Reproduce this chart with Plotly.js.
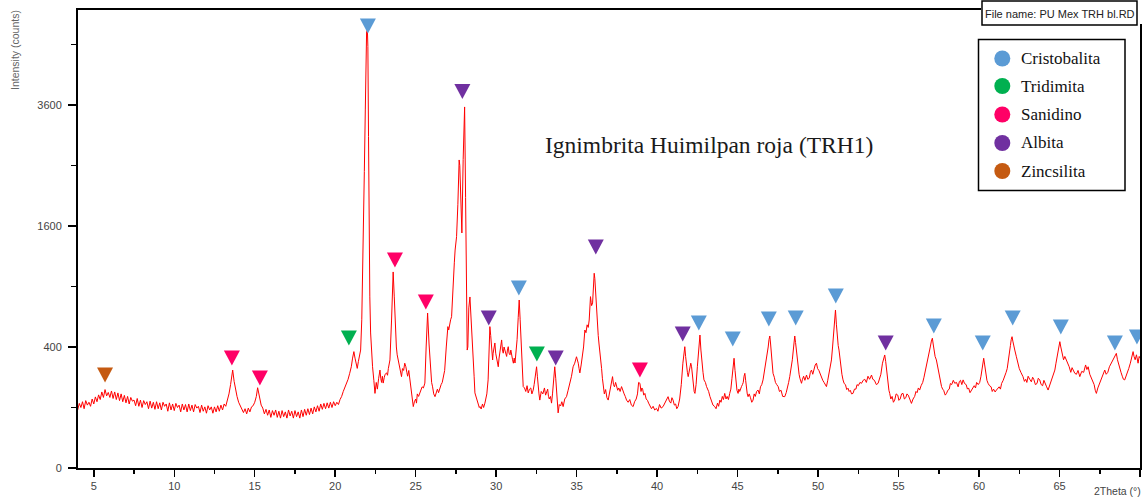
<!DOCTYPE html>
<html><head><meta charset="utf-8">
<script src="https://cdn.plot.ly/plotly-3.0.1.min.js"></script>
<style>html,body{margin:0;padding:0;background:#fff}#chart{width:1146px;height:499px}</style>
</head><body><div id="chart"></div>
<script>
// ---- Pattern: 2Theta (deg) and intensity (counts), in four segments ----
const thetaA = [
4.0,4.1,4.2,4.3,4.4,4.5,4.6,4.7,4.8,4.9,
5.0,5.1,5.2,5.3,5.4,5.5,5.6,5.7,5.8,5.9,
6.0,6.1,6.2,6.3,6.4,6.5,6.6,6.7,6.8,6.9,
7.0,7.1,7.2,7.3,7.4,7.5,7.6,7.7,7.8,7.9,
8.0,8.1,8.2,8.3,8.4,8.5,8.6,8.7,8.8,8.9,
9.0,9.1,9.2,9.3,9.4,9.5,9.6,9.7,9.8,9.9,
10.0,10.1,10.2,10.3,10.4,10.5,10.6,10.7,10.8,10.9,
11.0,11.1,11.2,11.3,11.4,11.5,11.6,11.7,11.8,11.9,
12.0,12.1,12.2,12.3,12.4,12.5,12.6,12.7,12.8,12.9,
13.0,13.1,13.2,13.3,
13.4,13.5,13.55,13.63,13.72,13.8,13.9,
14.0,14.1,14.2,14.3,14.4,14.5,14.6,14.7,14.8,14.9,
15.0,15.1,15.18,15.25,15.3,15.4,
15.5,15.6,15.7,15.8,15.9,
16.0,16.1,16.2,16.3,16.4,16.5,16.6,16.7,16.8,16.9,
17.0,17.1,17.2,17.3,17.4,17.5,17.6,17.7,17.8,17.9,
18.0,18.1,18.2,18.3,18.4,18.5,18.6,18.7,18.8,18.9,
19.0,19.1,19.2,19.3,19.4,19.5,19.6,19.7,19.8,19.9,
20.0,20.1,20.2,20.3,20.4];
const countsA = [
92,114,100,120,96,124,108,118,104,130,
112,138,120,146,128,158,136,168,142,156,
136,162,132,158,128,154,124,150,120,144,
116,140,112,136,122,126,106,132,104,126,
100,124,110,120,96,122,98,118,94,120,
96,116,92,118,104,112,88,116,92,112,
90,114,100,108,86,112,92,110,86,112,
90,108,86,110,98,104,84,108,88,102,
82,106,92,102,82,102,86,106,88,108,
92,112,104,122,
150,190,215,262,205,165,140,
118,106,98,84,96,80,98,86,102,106,
118,140,176,150,130,108,
98,80,94,76,92,
70,90,76,92,70,88,68,90,72,86,
68,92,74,88,68,90,72,86,68,92,
72,94,76,96,78,98,80,102,86,106,
88,112,94,114,96,116,98,118,100,120,
106,118,110,128,140];

const thetaB = [
20.5,20.6,20.7,20.8,20.9,21.0,21.08,21.16,21.23,21.3,21.37,21.44,21.5,21.58,21.65,21.74,21.81,21.87,21.95,22.0,
22.03,22.07,22.1,22.15,22.2,22.26,22.32,22.4,22.47,22.55,22.62,22.7,22.78,22.83,22.88,22.93,22.98,23.05,23.1,23.19,
23.25,23.3,23.4,23.5,23.6,23.67,23.73,23.8,23.85,23.91,24.0,24.06,24.12,24.18,24.25,24.32,24.39,24.45,24.5,24.57,
24.64,24.7,24.75,24.8,24.85,24.92,25.0,25.05,25.1,25.18,25.26,25.33,25.4,25.48,25.57,25.65,25.74,25.83,25.93,25.99,
26.05,26.12,26.2,26.28,26.35,26.42,26.5,26.58,26.65,26.72,26.8,26.9,26.95,27.0,27.05,27.1,27.17,27.23,27.28,27.33,
27.4,27.45,27.54,27.62,27.7,27.74,27.78,27.83,27.87,27.95,28.0,28.04,28.1,28.16,28.2,28.24,28.3,28.37,28.43,28.49,
28.55,28.58,28.63,28.68,28.75,28.8,28.88,28.95,28.99,29.07,29.15,29.22,29.3,29.36,29.42,29.5,29.55,29.61,29.66,29.7,
29.74,29.78,29.81,29.85,29.92,29.97,30.02,30.07,30.13,30.18,30.23,30.28,30.34,30.39,30.44,30.49,30.54,30.6,30.65,30.7,
30.75,30.8,30.86,30.91,30.96,31.02,31.07,31.12,31.17,31.24,31.3,31.37,31.43,31.49,31.55,31.62,31.68,31.76,31.84,31.92,
31.99,32.07,32.15,32.22,32.3,32.36,32.42,32.51,32.56,32.6,32.66,32.71,32.8,32.9,33.0,33.07,33.13,33.2,33.25,33.3,
33.37,33.44,33.5,33.55,33.6,33.64,33.7,33.75,33.8,33.85,33.92,34.0,34.08,34.16,34.26,34.37,34.47,34.58,34.68,34.78,
34.88,34.99,35.05,35.1,35.15,35.2,35.28,35.35,35.43,35.51,35.58,35.65,35.72,35.78,35.82,35.86,35.9,35.93,35.99,36.04,
36.09,36.13,36.16,36.2,36.24,36.29,36.34,36.39,36.44,36.5,36.55];
const countsB = [
160,175,195,215,245,280,330,370,330,300,271,310,340,380,600,1298,2400,3502,5201,5242,
4850,3000,1509,800,498,360,280,210,152,200,170,220,262,220,200,230,197,225,240,247,
235,270,319,598,1050,800,498,400,350,319,280,250,228,270,260,300,280,250,230,260,
212,180,160,120,103,120,130,115,150,140,154,170,180,175,197,400,656,420,228,200,
180,150,139,160,170,155,175,190,200,230,260,400,480,546,520,560,600,625,800,1000,
1150,1298,1462,1900,2592,2500,2000,1600,1509,2600,3300,3561,2000,402,380,400,700,799,650,546,
420,350,230,154,140,130,115,100,103,95,112,100,115,130,150,212,350,546,480,400,
340,319,360,380,427,360,330,300,280,330,360,400,448,380,360,400,380,360,340,380,
402,360,350,380,338,320,300,330,301,360,450,620,771,600,400,250,181,175,160,185,
154,170,175,150,166,190,220,280,230,180,150,126,160,150,175,145,154,170,140,130,
140,115,150,200,250,280,220,160,110,83,110,105,120,103,130,139,165,197,230,280,
300,338,320,300,270,247,290,330,400,520,500,560,540,598,700,802,750,720,744,900,
1036,980,900,760,625,540,480,420,380,320,270];

const thetaC = [
36.6,36.65,36.72,36.8,36.88,36.96,37.03,37.1,37.17,37.23,37.29,37.35,37.42,37.48,37.55,37.62,37.7,37.79,37.87,37.95,
38.02,38.1,38.2,38.3,38.4,38.51,38.6,38.7,38.78,38.85,38.93,39.0,39.05,39.1,39.17,39.24,39.32,39.4,39.47,39.55,
39.65,39.75,39.85,39.96,40.05,40.15,40.25,40.37,40.46,40.55,40.62,40.68,40.76,40.85,40.92,40.99,41.07,41.15,41.22,41.3,
41.4,41.5,41.6,41.72,41.77,41.82,41.88,41.93,41.98,42.03,42.09,42.14,42.2,42.25,42.3,42.35,42.42,42.5,42.58,42.66,
42.72,42.78,42.85,42.91,43.0,43.07,43.14,43.2,43.28,43.38,43.47,43.58,43.66,43.75,43.82,43.9,43.97,44.05,44.12,44.2,
44.28,44.35,44.43,44.51,44.58,44.65,44.72,44.78,44.84,44.9,44.96,45.03,45.08,45.13,45.18,45.24,45.3,45.35,45.4,45.45,
45.5,45.55,45.6,45.65,45.72,45.8,45.88,45.96,46.03,46.1,46.18,46.27,46.35,46.42,46.5,46.58,46.64,46.7,46.79,46.85,
46.9,46.95,47.0,47.05,47.1,47.15,47.2,47.28,47.35,47.43,47.52,47.6,47.7,47.8,47.93,48.02,48.1,48.17,48.24,48.32,
48.4,48.48,48.55,48.6,48.65,48.7,48.76,48.82,48.87,48.92,48.97,49.03,49.1,49.18,49.28,49.36,49.45,49.52,49.59,49.67,
49.75,49.82,49.9,49.97,50.05,50.13,50.21,50.29,50.37,50.45,50.52,50.6,50.7,50.77,50.83,50.9,50.95,51.02,51.08,51.14,
51.2,51.25,51.3,51.36,51.42,51.48,51.55,51.62,51.7,51.78,51.86,51.93,52.0,52.08,52.17,52.26,52.35,52.42,52.5,52.6,
52.7,52.8,52.9,53.0,53.1,53.2,53.32,53.4,53.5,53.62,53.73,53.82];
const countsC = [
220,181,150,168,135,126,150,170,200,228,190,180,200,181,165,175,160,181,160,150,
140,126,118,128,108,103,120,130,150,200,196,160,175,170,145,152,130,125,115,108,
96,104,92,97,88,110,98,103,114,120,130,139,122,115,135,126,108,112,96,103,
130,190,300,402,340,280,250,228,250,260,300,280,220,180,160,152,190,280,400,483,
380,300,250,212,200,181,170,160,140,126,108,103,96,115,104,126,118,140,128,152,
130,140,128,152,170,220,290,329,260,200,165,152,170,160,175,181,190,200,230,245,
210,170,150,139,150,135,118,126,150,140,160,166,150,180,190,212,240,270,319,360,
400,450,476,420,350,290,245,225,200,190,181,160,165,140,139,155,175,200,228,270,
320,400,476,430,380,320,280,240,220,205,196,215,230,210,236,215,220,250,262,240,
270,290,300,270,260,240,228,210,200,190,181,210,250,280,319,400,480,600,682,560,
450,410,380,320,270,240,212,195,190,168,174,160,165,150,152,170,170,190,185,200,
196,210,215,200,230,215,236,215,210,190,196,215];

const thetaD = [
53.9,54.0,54.07,54.14,54.2,54.25,54.3,54.35,54.4,54.45,54.52,54.6,54.68,54.76,54.85,54.95,55.02,55.1,55.19,55.28,
55.36,55.45,55.52,55.6,55.7,55.8,55.9,56.0,56.08,56.15,56.23,56.31,56.4,56.5,56.58,56.65,56.72,56.77,56.84,56.9,
56.97,57.04,57.1,57.15,57.2,57.27,57.35,57.43,57.5,57.58,57.67,57.74,57.8,57.9,57.98,58.06,58.15,58.22,58.3,58.4,
58.49,58.6,58.7,58.78,58.85,58.93,59.01,59.1,59.2,59.28,59.35,59.44,59.53,59.62,59.7,59.78,59.85,59.95,60.04,60.12,
60.18,60.24,60.29,60.35,60.42,60.49,60.56,60.65,60.75,60.82,60.9,61.0,61.08,61.17,61.25,61.33,61.4,61.5,61.6,61.68,
61.75,61.8,61.86,61.9,61.95,62.0,62.05,62.1,62.15,62.22,62.32,62.4,62.5,62.6,62.73,62.82,62.9,62.97,63.05,63.15,
63.25,63.33,63.4,63.5,63.6,63.68,63.77,63.86,63.95,64.03,64.1,64.2,64.29,64.4,64.5,64.6,64.71,64.78,64.85,64.93,
65.02,65.08,65.15,65.2,65.25,65.33,65.43,65.52,65.6,65.7,65.78,65.85,65.95,66.05,66.15,66.26,66.38,66.5,66.62,66.7,
66.78,66.88,67.0,67.08,67.15,67.22,67.29,67.38,67.5,67.57,67.65,67.73,67.81,67.9,68.0,68.1,68.22,68.3,68.4,68.47,
68.53,68.6,68.65,68.74,68.82,68.9,68.97,69.05,69.12,69.2,69.3,69.4,69.48,69.57,69.63,69.7,69.78,69.88,69.95,70.0];
const countsD = [
240,300,330,349,310,260,220,190,165,152,130,140,118,126,150,145,125,130,150,152,
130,135,150,145,125,114,130,140,160,155,175,166,185,200,225,250,280,300,330,360,
400,440,460,420,380,340,319,280,240,210,181,170,165,145,152,165,170,195,190,210,
196,200,180,205,210,190,212,195,190,170,175,155,166,180,185,175,200,190,200,230,
260,300,329,290,240,210,196,185,180,160,170,158,166,175,180,170,195,210,228,250,
270,310,359,380,410,450,471,440,420,380,338,300,270,250,228,205,215,200,230,215,
203,225,215,190,195,220,212,190,185,210,200,180,166,190,210,235,262,300,340,400,
436,400,360,330,320,340,319,300,280,250,275,262,245,240,260,228,255,250,290,265,
280,240,220,200,190,165,152,175,200,215,230,250,262,240,250,280,300,320,330,345,
359,320,300,280,250,230,215,212,225,240,270,300,330,370,340,320,350,300,340,330];

// ---- Phase markers: 2Theta and counts level of each marker ----
const phaseNames = ['Cristobalita','Tridimita','Sanidino','Albita','Zincsilita'];
const phaseColors = ['#5B9BD5','#00B050','#FF0066','#7030A0','#C55A11'];
const cristobalitaX = [22.03,31.41,42.59,44.70,46.94,48.61,51.10,57.19,60.23,62.09,65.08,68.44,69.81];
const cristobalitaY = [5338,885,574,455,607,615,808,551,427,615,543,427,469];
const tridimitaX = [20.85,32.53];
const tridimitaY = [462,355];
const sanidinoX = [13.58,15.32,23.71,25.63,38.93];
const sanidinoY = [331,221,1182,753,262];
const albitaX = [27.90,29.54,33.70,36.19,41.59,54.20];
const albitaY = [3870,615,331,1334,491,427];
const zincsilitaX = [5.70];
const zincsilitaY = [236];

const yTickCounts = [0,400,1600,3600];
const yMinorCounts = [100,900,2500,4900];
const xRange = [4.02,70];
const yMaxCounts = 5730;

const twoTheta = thetaA.concat(thetaB, thetaC, thetaD);
const counts = countsA.concat(countsB, countsC, countsD);

const sq = v => Math.sqrt(v);            // square-root intensity scale
const L = 78, R = 1140, T = 10, B = 468;
const px = x => (x - L) / (R - L);
const py = y => (B - y) / (B - T);

const traces = [{
  type:'scatter', mode:'lines', x: twoTheta, y: counts.map(sq),
  line:{color:'#FF0000', width:1}, showlegend:false
}];

const shapes = [];
const sets = [[cristobalitaX,cristobalitaY],[tridimitaX,tridimitaY],[sanidinoX,sanidinoY],[albitaX,albitaY],[zincsilitaX,zincsilitaY]];
sets.forEach((s, k) => {
  s[0].forEach((xv, i) => {
    shapes.push({type:'path', xref:'x', yref:'y', xsizemode:'pixel', ysizemode:'pixel',
      xanchor:xv, yanchor:sq(s[1][i]), path:'M-8,7.5L8,7.5L0,-7.5Z',
      fillcolor:phaseColors[k], line:{color:phaseColors[k], width:0}, layer:'above'});
  });
});

// legend box
shapes.push({type:'rect', xref:'paper', yref:'paper', x0:px(978.5), x1:px(1125), y0:py(190.5), y1:py(39.5),
  line:{color:'#000', width:1.5}, fillcolor:'rgba(255,255,255,0)'});
const rowY = [58.5, 86, 114.5, 143, 171];
const annotations = [];
phaseNames.forEach((n, k) => {
  shapes.push({type:'circle', xref:'paper', yref:'paper', xsizemode:'pixel', ysizemode:'pixel',
    xanchor:px(1002.3), yanchor:py(rowY[k]), x0:-8, x1:8, y0:-8, y1:8,
    fillcolor:phaseColors[k], line:{color:phaseColors[k], width:0}});
  annotations.push({xref:'paper', yref:'paper', x:px(1018.5), y:py(rowY[k]), xanchor:'left', yanchor:'middle',
    text:n, showarrow:false, font:{family:'Liberation Serif, Times New Roman, serif', size:17, color:'#111'}});
});
// file name box over the top-right corner of the frame
shapes.push({type:'rect', xref:'paper', yref:'paper', x0:px(981), x1:px(1146), y0:py(24), y1:py(-2),
  line:{width:0}, fillcolor:'#fff'});
shapes.push({type:'rect', xref:'paper', yref:'paper', x0:px(982), x1:px(1137), y0:py(25), y1:py(1),
  line:{color:'#000', width:1.5}, fillcolor:'#fff'});

annotations.push({xref:'paper', yref:'paper', x:px(1059.5), y:py(14.5), xanchor:'center', yanchor:'middle',
  text:'File name: PU Mex TRH bl.RD', showarrow:false, font:{family:'Liberation Sans, Arial, sans-serif', size:11, color:'#222'}});
annotations.push({xref:'paper', yref:'paper', x:px(709), y:py(145), xanchor:'center', yanchor:'middle',
  text:'Ignimbrita Huimilpan roja (TRH1)', showarrow:false, font:{family:'Liberation Serif, Times New Roman, serif', size:23.5, color:'#1a1a1a'}});
annotations.push({xref:'paper', yref:'paper', x:px(15), y:py(50), xanchor:'center', yanchor:'middle', textangle:-90,
  text:'Intensity (counts)', showarrow:false, font:{family:'Liberation Sans, Arial, sans-serif', size:10.5, color:'#666'}});
annotations.push({xref:'paper', yref:'paper', x:px(1092), y:py(491), xanchor:'left', yanchor:'middle',
  text:'2Theta (°)', showarrow:false, font:{family:'Liberation Sans, Arial, sans-serif', size:10.5, color:'#444'}});

const tickFont = {family:'Liberation Sans, Arial, sans-serif', size:11, color:'#444'};
const layout = {
  width:1146, height:499, margin:{l:78, r:6, t:10, b:31, pad:0},
  paper_bgcolor:'#fff', plot_bgcolor:'#fff', showlegend:false,
  xaxis:{range:xRange, tickmode:'linear', tick0:0, dtick:5, ticks:'outside', ticklen:7, tickwidth:1.5, tickcolor:'#000',
    showline:true, linecolor:'#000', linewidth:2, mirror:true, showgrid:false, zeroline:false, tickfont:tickFont,
    minor:{tickmode:'linear', tick0:0, dtick:2.5, ticks:'outside', ticklen:4, tickwidth:1.5, tickcolor:'#000', showgrid:false}},
  yaxis:{range:[0, sq(yMaxCounts)], tickmode:'array', tickvals:yTickCounts.map(sq), ticktext:yTickCounts.map(String),
    ticks:'outside', ticklen:8, tickwidth:1.5, tickcolor:'#000', ticklabelstandoff:4,
    showline:true, linecolor:'#000', linewidth:2, mirror:true, showgrid:false, zeroline:false, tickfont:tickFont,
    minor:{tickmode:'array', tickvals:yMinorCounts.map(sq), ticks:'outside', ticklen:5, tickwidth:1.5, tickcolor:'#000', showgrid:false}},
  shapes: shapes, annotations: annotations
};
Plotly.newPlot('chart', traces, layout, {displayModeBar:false, staticPlot:true});
</script></body></html>
